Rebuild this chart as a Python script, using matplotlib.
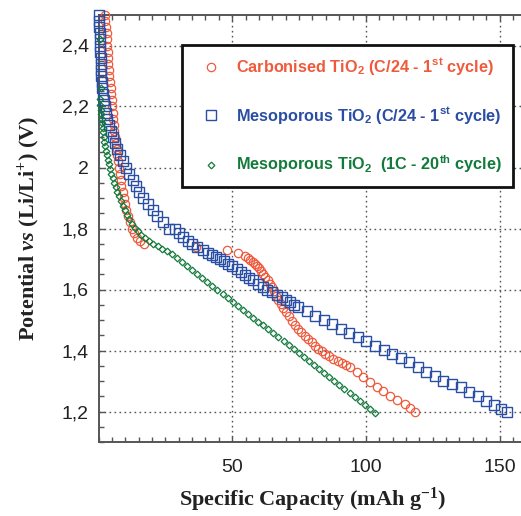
import matplotlib
matplotlib.use('Agg')
import matplotlib.pyplot as plt
from matplotlib.ticker import MultipleLocator, FuncFormatter

plt.rcParams['font.family'] = ['Liberation Sans', 'DejaVu Sans']
plt.rcParams['mathtext.fontset'] = 'custom'
plt.rcParams['mathtext.it'] = 'Liberation Serif:italic:bold'
plt.rcParams['mathtext.default'] = 'regular'

# ---- data ----
carb_x = [2.3, 2.6, 2.9, 3.1, 3.2, 3.3, 3.4, 3.6, 3.7, 3.9, 4.1, 4.3, 4.5, 4.7, 4.9,
          5.1, 5.3, 5.5, 5.7, 5.9, 6.2, 6.5, 6.8, 7.0, 7.3, 7.6, 7.9, 8.3, 8.6, 9.0,
          9.4, 9.9, 10.4, 11.0, 11.7, 12.4, 13.3, 14.5, 15.6, 17.0,
          36.5, 47.9, 52.3, 54.8, 56.0, 56.7, 57.6, 58.5, 59.3, 60.1, 60.8, 61.6, 62.4,
          63.3, 64.0, 64.8, 65.6, 66.4, 67.2, 68.1, 69.1, 70.1, 71.1, 72.2, 73.4, 74.7,
          75.9, 77.2, 78.4, 79.7, 81.0, 82.2, 83.5, 84.7, 86.2, 87.8, 89.4, 90.9, 92.5,
          94.1, 96.6, 99.0, 101.5, 104.0, 106.5, 109.0, 111.5, 114.6, 116.5, 118.4]
carb_v = [2.50, 2.48, 2.46, 2.44, 2.42, 2.40, 2.38, 2.36, 2.34, 2.32, 2.30, 2.28, 2.26, 2.24, 2.22,
          2.20, 2.18, 2.16, 2.14, 2.12, 2.10, 2.08, 2.06, 2.04, 2.02, 2.00, 1.98, 1.96, 1.94, 1.92,
          1.90, 1.88, 1.86, 1.84, 1.82, 1.80, 1.785, 1.77, 1.76, 1.75,
          1.739, 1.731, 1.720, 1.709, 1.703, 1.698, 1.691, 1.684, 1.677, 1.670, 1.661, 1.651, 1.641,
          1.630, 1.619, 1.608, 1.594, 1.580, 1.567, 1.553, 1.540, 1.526, 1.512, 1.498, 1.485, 1.471,
          1.460, 1.449, 1.438, 1.427, 1.416, 1.406, 1.397, 1.389, 1.381, 1.373, 1.365, 1.358, 1.351,
          1.345, 1.329, 1.312, 1.296, 1.280, 1.266, 1.252, 1.239, 1.225, 1.213, 1.200]

meso_x = [0.1, 0.2, 0.3, 0.4, 0.5, 0.6, 0.7, 0.8, 0.9, 1.0, 1.1, 1.2, 1.4, 1.6, 1.9,
          2.3, 2.8, 3.3, 3.9, 4.6, 5.4, 6.2, 7.1, 8.1, 9.2, 10.3, 11.5, 12.8, 14.0, 15.3,
          16.8, 18.5, 20.2, 22.0, 24.0, 26.2, 28.5, 30.0, 31.7, 33.3, 34.9, 37.0, 39.2,
          40.8, 42.3, 43.8, 45.4, 47.0, 48.5, 50.1, 51.7, 53.2, 54.8, 56.3, 57.9, 59.7,
          61.6, 63.2, 64.8, 66.6, 68.5, 70.0, 71.6, 73.1, 74.7, 77.9, 81.0, 84.2, 87.4,
          90.6, 93.8, 97.0, 100.2, 103.4, 106.6, 109.8, 113.0, 116.2, 119.4, 122.6, 125.8,
          129.0, 132.2, 135.4, 138.6, 141.8, 145.0, 148.0, 150.6, 152.9]
meso_v = [2.50, 2.48, 2.46, 2.44, 2.42, 2.40, 2.38, 2.36, 2.34, 2.32, 2.30, 2.28, 2.26, 2.24, 2.22,
          2.20, 2.18, 2.16, 2.14, 2.12, 2.10, 2.08, 2.06, 2.04, 2.02, 2.00, 1.98, 1.96, 1.94, 1.92,
          1.90, 1.88, 1.86, 1.84, 1.82, 1.80, 1.80, 1.785, 1.771, 1.760, 1.750, 1.739, 1.728,
          1.721, 1.714, 1.708, 1.701, 1.692, 1.684, 1.676, 1.668, 1.657, 1.646, 1.638, 1.630, 1.619,
          1.608, 1.600, 1.591, 1.583, 1.575, 1.566, 1.558, 1.550, 1.542, 1.528, 1.512, 1.500, 1.486,
          1.471, 1.456, 1.443, 1.430, 1.414, 1.401, 1.388, 1.374, 1.361, 1.345, 1.330, 1.315,
          1.301, 1.290, 1.279, 1.265, 1.251, 1.236, 1.220, 1.208, 1.199]

cyc20_x = [0.6, 0.8, 0.6, 0.7, 0.9, 1.0, 1.2, 1.3, 1.5, 1.7, 1.9, 2.2, 2.5, 2.8, 3.1,
           3.5, 3.9, 4.3, 4.8, 5.3, 5.8, 6.4, 7.0, 7.6, 8.3, 9.0, 9.8, 10.6, 11.5, 12.4,
           13.5, 14.7, 16.0, 17.4, 18.9, 20.5, 22.1, 23.8, 25.6,
           27.4, 29.3, 31.2, 33.1, 35.0, 36.9, 38.8, 40.7, 42.6, 44.5, 46.4, 48.3, 50.2,
           52.1, 54.0, 55.9, 57.8, 59.7, 61.6, 63.5, 65.4, 67.3, 69.2, 71.1, 73.0, 74.9,
           76.8, 78.7, 80.6, 82.5, 84.4, 86.3, 88.2, 90.1, 92.0, 93.9, 95.8, 97.7, 99.6,
           101.5, 103.4]
cyc20_v = [2.42, 2.26, 2.225, 2.205, 2.19, 2.175, 2.16, 2.145, 2.13, 2.115, 2.10, 2.085, 2.07, 2.055, 2.04,
           2.025, 2.01, 1.995, 1.98, 1.965, 1.95, 1.935, 1.92, 1.905, 1.89, 1.875, 1.86, 1.845, 1.83, 1.816,
           1.803, 1.791, 1.780, 1.769, 1.759, 1.750, 1.741, 1.733, 1.725,
           1.717, 1.703, 1.690, 1.677, 1.664, 1.651, 1.638, 1.625, 1.612, 1.599, 1.586, 1.573, 1.560,
           1.547, 1.534, 1.521, 1.508, 1.495, 1.482, 1.469, 1.456, 1.443, 1.430, 1.417, 1.404, 1.391,
           1.378, 1.365, 1.352, 1.339, 1.326, 1.313, 1.300, 1.287, 1.274, 1.261, 1.248, 1.235, 1.222,
           1.209, 1.196]

labels = ['Carbonised TiO$_2$ (C/24 - 1$^{st}$ cycle)',
          'Mesoporous TiO$_2$ (C/24 - 1$^{st}$ cycle)',
          'Mesoporous TiO$_2$  (1C - 20$^{th}$ cycle)']
x_major = [50, 100, 150]
y_major = [1.2, 1.4, 1.6, 1.8, 2.0, 2.2, 2.4]

RED, BLUE, GREEN = '#f05a3c', '#2a4ea3', '#137a3c'

fig = plt.figure(figsize=(5.21, 5.16), dpi=100)
ax = fig.add_axes([98.5 / 521, 74 / 516, 427.8 / 521, 427 / 516])

ax.plot(carb_x, carb_v, 'o', ms=6, mfc='none', mec=RED, mew=0.9, clip_on=False, zorder=3, label=labels[0])
ax.plot(meso_x, meso_v, 's', ms=6.5, mfc='none', mec=BLUE, mew=1.0, clip_on=False, zorder=3, label=labels[1])
ax.plot(cyc20_x, cyc20_v, 'D', ms=3.4, mfc='none', mec=GREEN, mew=0.9, clip_on=False, zorder=3, label=labels[2])

ax.set_xlim(0, 160)
ax.set_ylim(1.1, 2.5)
ax.set_xticks(x_major)
ax.set_yticks(y_major)
ax.xaxis.set_minor_locator(MultipleLocator(5))
ax.yaxis.set_minor_locator(MultipleLocator(0.05))
ax.yaxis.set_major_formatter(FuncFormatter(lambda v, _: f'{v:g}'.replace('.', ',')))
ax.tick_params(which='both', direction='in', top=True, right=True, color='#555555', width=1.0)
ax.tick_params(which='major', length=4.5, labelsize=14, colors='#555555', labelcolor='#222222')
ax.tick_params(which='minor', length=3.5)
ax.tick_params(axis='x', which='major', pad=12)
ax.tick_params(axis='y', which='major', pad=7)
for s in ax.spines.values():
    s.set_color('#555555')
    s.set_linewidth(1.4)
ax.grid(which='major', color='#555555', linestyle=(0, (1.2, 2.4)), linewidth=1.0, zorder=0)

ax.set_xlabel('Specific Capacity (mAh g$^{-1}$)', family='Liberation Serif', fontweight='bold',
              fontsize=16, color='#222222', labelpad=7)
ax.set_ylabel('Potential $\\mathit{vs}$ (Li/Li$^{+}$) (V)', family='Liberation Serif', fontweight='bold',
              fontsize=16, color='#222222', labelpad=14)

leg = ax.legend(loc='upper left', bbox_to_anchor=(83.5 / 427.8, 1 - 30 / 427), numpoints=1,
                prop={'weight': 'bold', 'size': 11.7}, frameon=True, fancybox=False,
                borderpad=0.7, handlelength=2.17, handletextpad=0.45, labelspacing=1.7,
                borderaxespad=0)
frame = leg.get_frame()
frame.set_edgecolor('#111111')
frame.set_linewidth(2.0)
frame.set_alpha(1)
for t, c in zip(leg.get_texts(), [RED, BLUE, GREEN]):
    t.set_color(c)
leg.set_zorder(5)

fig.savefig('out.png', dpi=100)
